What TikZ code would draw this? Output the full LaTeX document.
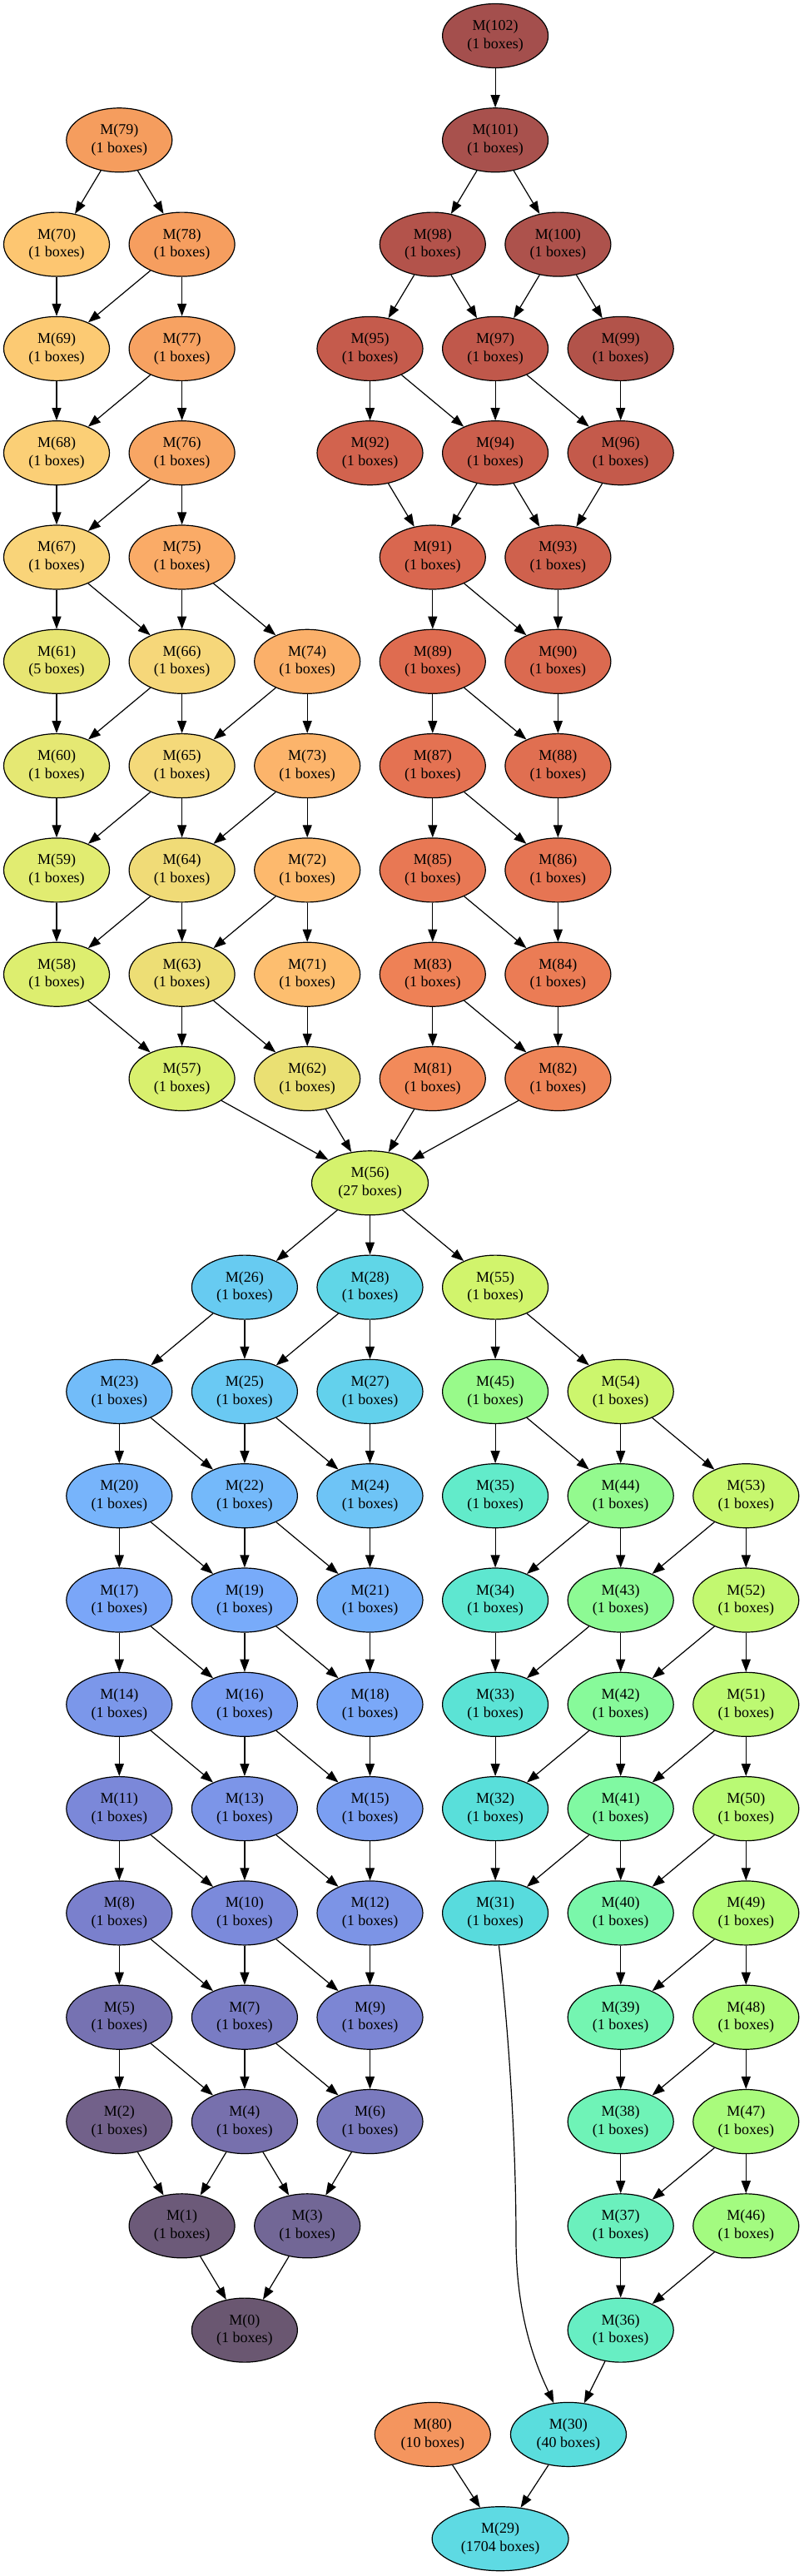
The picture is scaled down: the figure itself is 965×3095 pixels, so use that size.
\documentclass[tikz,border=0pt]{standalone}
\usepackage{fontspec}
\setmainfont{Liberation Serif}
\usetikzlibrary{shapes.geometric,arrows.meta}
\tikzset{
  nd/.style={ellipse,draw=black,line width=0.6pt,minimum width=63.5pt,minimum height=38.5pt,
    inner sep=0pt,align=center,font=\fontsize{9pt}{10.85pt}\selectfont},
  ed/.style={line width=0.6pt,-{Triangle[length=7.5pt,width=5.5pt]}}
}
\newcommand\mnode[6][]{%
  \definecolor{c#2}{HTML}{#5}%
  \node[nd,fill=c#2,#1] (n#2) at ({68+75.3*#3},{43+125.3*#4}) {M(#2)\\(#6 boxes)};}
\begin{document}
\begin{tikzpicture}[x=0.5pt,y=-0.5pt]
\fill[white] (0,0) rectangle (965,3095);
\useasboundingbox (0,0) rectangle (965,3095);
% rank 0-5 top red group
\mnode{102}{7}{0}{A44F4D}{1}
\mnode{101}{7}{1}{A8514D}{1}
\mnode{98}{6}{2}{B3534B}{1}
\mnode{100}{8}{2}{AD524C}{1}
\mnode{95}{5}{3}{C55B4C}{1}
\mnode{97}{7}{3}{C0584B}{1}
\mnode{99}{9}{3}{B2534A}{1}
\mnode{92}{5}{4}{D2634E}{1}
\mnode{94}{7}{4}{CB5E4C}{1}
\mnode{96}{9}{4}{C45A4B}{1}
\mnode{91}{6}{5}{D9674F}{1}
\mnode{93}{8}{5}{CF614D}{1}
\mnode{89}{6}{6}{DF6C50}{1}
\mnode{90}{8}{6}{DB6A50}{1}
\mnode{87}{6}{7}{E47252}{1}
\mnode{88}{8}{7}{E06F51}{1}
\mnode{85}{6}{8}{E87854}{1}
\mnode{86}{8}{8}{E67553}{1}
\mnode{83}{6}{9}{EE8156}{1}
\mnode{84}{8}{9}{EB7C55}{1}
\mnode{81}{6}{10}{F28A5A}{1}
\mnode{82}{8}{10}{EF8558}{1}
% orange / yellow group
\mnode{79}{1}{1}{F59D5E}{1}
\mnode{70}{0}{2}{FDC671}{1}
\mnode{78}{2}{2}{F69E5F}{1}
\mnode{69}{0}{3}{FCCA73}{1}
\mnode{77}{2}{3}{F7A262}{1}
\mnode{68}{0}{4}{FBCF76}{1}
\mnode{76}{2}{4}{F8A664}{1}
\mnode{67}{0}{5}{F9D479}{1}
\mnode{75}{2}{5}{FAAB67}{1}
\mnode{61}{0}{6}{E7E572}{5}
\mnode{66}{2}{6}{F6D77A}{1}
\mnode{74}{4}{6}{FBB06A}{1}
\mnode{60}{0}{7}{E5E873}{1}
\mnode{65}{2}{7}{F4D97A}{1}
\mnode{73}{4}{7}{FCB46B}{1}
\mnode{59}{0}{8}{E1EC71}{1}
\mnode{64}{2}{8}{F0DB77}{1}
\mnode{72}{4}{8}{FDB96D}{1}
\mnode{58}{0}{9}{DDEE6F}{1}
\mnode{63}{2}{9}{EDDE75}{1}
\mnode{71}{4}{9}{FDBE6F}{1}
\mnode{57}{2}{10}{D9F06E}{1}
\mnode{62}{4}{10}{EAE073}{1}
% hub
\mnode[minimum width=70pt]{56}{5}{11}{D5F26D}{27}
% blue group
\mnode{26}{3}{12}{67CBF1}{1}
\mnode{28}{5}{12}{60D6E7}{1}
\mnode{23}{1}{13}{72BCF9}{1}
\mnode{25}{3}{13}{6AC9F3}{1}
\mnode{27}{5}{13}{63D1EC}{1}
\mnode{20}{1}{14}{77B4FB}{1}
\mnode{22}{3}{14}{74B9FA}{1}
\mnode{24}{5}{14}{6EC4F6}{1}
\mnode{17}{1}{15}{7AA6F8}{1}
\mnode{19}{3}{15}{78ABFA}{1}
\mnode{21}{5}{15}{76B1FA}{1}
\mnode{14}{1}{16}{7B97EA}{1}
\mnode{16}{3}{16}{7BA0F4}{1}
\mnode{18}{5}{16}{7AA8F8}{1}
\mnode{11}{1}{17}{7B88D9}{1}
\mnode{13}{3}{17}{7C95E8}{1}
\mnode{15}{5}{17}{7B9FF2}{1}
\mnode{8}{1}{18}{7A80CD}{1}
\mnode{10}{3}{18}{7B8ADB}{1}
\mnode{12}{5}{18}{7C94E6}{1}
\mnode{5}{1}{19}{7672B2}{1}
\mnode{7}{3}{19}{797CC4}{1}
\mnode{9}{5}{19}{7C86D4}{1}
\mnode{2}{1}{20}{72618A}{1}
\mnode{4}{3}{20}{7770AD}{1}
\mnode{6}{5}{20}{7A7ABE}{1}
\mnode{1}{2}{21}{6C5A79}{1}
\mnode{3}{4}{21}{726796}{1}
\mnode{0}{3}{22}{6A5771}{1}
% green group
\mnode{55}{7}{12}{D1F46C}{1}
\mnode{45}{7}{13}{98FA8A}{1}
\mnode{54}{9}{13}{CCF66D}{1}
\mnode{35}{7}{14}{62EBCA}{1}
\mnode{44}{9}{14}{93FA8E}{1}
\mnode{53}{11}{14}{C7F76E}{1}
\mnode{34}{7}{15}{5EE7D0}{1}
\mnode{43}{9}{15}{8DFA94}{1}
\mnode{52}{11}{15}{C2F870}{1}
\mnode{33}{7}{16}{5BE3D5}{1}
\mnode{42}{9}{16}{87FA9A}{1}
\mnode{51}{11}{16}{BDF972}{1}
\mnode{32}{7}{17}{59DFDA}{1}
\mnode{41}{9}{17}{80F9A2}{1}
\mnode{50}{11}{17}{B9FA74}{1}
\mnode{31}{7}{18}{58DBDD}{1}
\mnode{40}{9}{18}{7AF7AA}{1}
\mnode{49}{11}{18}{B3FB76}{1}
\mnode{39}{9}{19}{74F5B1}{1}
\mnode{48}{11}{19}{AEFB79}{1}
\mnode{38}{9}{20}{6FF3B7}{1}
\mnode{47}{11}{20}{A9FB7C}{1}
\mnode{37}{9}{21}{6BF0BD}{1}
\mnode{46}{11}{21}{A3FB80}{1}
\mnode{36}{9}{22}{67EEC3}{1}
% bottom
\mnode[minimum width=69.5pt]{80}{6}{23}{F4955E}{10}
\mnode[minimum width=69.5pt]{30}{8.167}{23}{5ADDDD}{40}
\mnode[minimum width=82pt]{29}{7.08}{24}{5EDAE3}{1704}
% edges
\foreach \a/\b in {102/101,101/98,101/100,79/70,79/78,78/69,78/77,70/69,69/68,77/68,77/76,
  68/67,76/67,76/75,98/95,98/97,100/97,100/99,95/92,95/94,97/94,97/96,99/96,92/91,94/91,94/93,
  96/93,67/61,67/66,75/66,75/74,91/89,91/90,93/90,61/60,66/60,66/65,74/65,74/73,89/87,89/88,
  90/88,60/59,65/59,65/64,73/64,73/72,87/85,87/86,88/86,59/58,64/58,64/63,72/63,72/71,85/83,
  85/84,86/84,58/57,63/57,63/62,71/62,83/81,83/82,84/82,57/56,62/56,81/56,82/56,
  56/26,56/28,56/55,26/23,26/25,28/25,28/27,55/45,55/54,23/20,23/22,25/22,25/24,27/24,
  45/35,45/44,54/44,54/53,20/17,20/19,22/19,22/21,24/21,35/34,44/34,44/43,53/43,53/52,
  17/14,17/16,19/16,19/18,21/18,34/33,43/33,43/42,52/42,52/51,14/11,14/13,16/13,16/15,18/15,
  33/32,42/32,42/41,51/41,51/50,11/8,11/10,13/10,13/12,15/12,32/31,41/31,41/40,50/40,50/49,
  8/5,8/7,10/7,10/9,12/9,40/39,49/39,49/48,5/2,5/4,7/4,7/6,9/6,39/38,48/38,48/47,
  2/1,4/1,4/3,6/3,38/37,47/37,47/46,1/0,3/0,37/36,46/36,36/30,80/29,30/29}
  \draw[ed] (n\a) -- (n\b);
\draw[ed] (n31) .. controls (612,2450) and (620,2580) .. (620,2690)
  .. controls (620,2790) and (648,2850) .. (n30);
\end{tikzpicture}
\end{document}
